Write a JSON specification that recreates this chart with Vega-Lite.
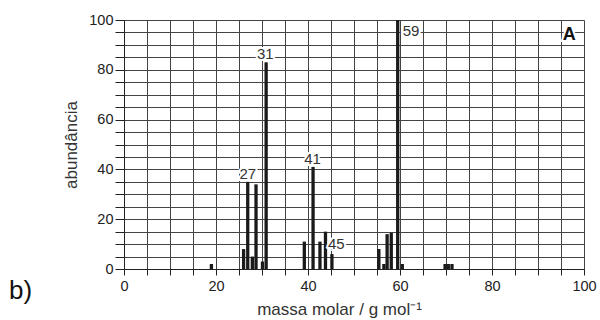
{
  "$schema": "https://vega.github.io/schema/vega-lite/v6.json",
  "width": 460,
  "height": 249,
  "autosize": {"type": "none"},
  "padding": {"left": 124, "top": 20, "right": 16, "bottom": 51},
  "background": "white",
  "config": {
    "view": {"stroke": null},
    "font": "Liberation Sans",
    "axis": {
      "gridColor": "#444",
      "gridOpacity": 1,
      "gridWidth": 1,
      "domainColor": "#222",
      "tickColor": "#222",
      "labelColor": "#222",
      "titleColor": "#333",
      "labelFont": "Liberation Sans",
      "titleFont": "Liberation Sans",
      "labelFontSize": 14.5,
      "titleFontSize": 17,
      "titleFontWeight": "normal"
    }
  },
  "datasets": {
    "picos": [
      {"massa": 19, "abundancia": 2},
      {"massa": 26, "abundancia": 8},
      {"massa": 26.9, "abundancia": 35},
      {"massa": 27.9, "abundancia": 5},
      {"massa": 28.7, "abundancia": 34},
      {"massa": 30.1, "abundancia": 3},
      {"massa": 30.9, "abundancia": 83},
      {"massa": 39.2, "abundancia": 11},
      {"massa": 41.1, "abundancia": 41},
      {"massa": 42.6, "abundancia": 11},
      {"massa": 43.8, "abundancia": 15},
      {"massa": 45.2, "abundancia": 6},
      {"massa": 55.4, "abundancia": 8},
      {"massa": 56.5, "abundancia": 2},
      {"massa": 57.2, "abundancia": 14},
      {"massa": 58.1, "abundancia": 14.5},
      {"massa": 59.5, "abundancia": 100},
      {"massa": 60.5, "abundancia": 2},
      {"massa": 69.8, "abundancia": 2},
      {"massa": 70.5, "abundancia": 2},
      {"massa": 71.3, "abundancia": 2}
    ],
    "rotulosTopo": [
      {"massa": 26.9, "abundancia": 35, "rotulo": "27"},
      {"massa": 30.7, "abundancia": 83, "rotulo": "31"},
      {"massa": 41.0, "abundancia": 41, "rotulo": "41"}
    ],
    "rotulosLado45": [
      {"massa": 45.2, "abundancia": 6, "rotulo": "45"}
    ],
    "rotulosLado59": [
      {"massa": 59.5, "abundancia": 100, "rotulo": "59"}
    ],
    "painel": [
      {"massa": 96.8, "abundancia": 94, "rotulo": "A"}
    ],
    "item": [
      {"massa": -22.5, "abundancia": -8.8, "rotulo": "b)"}
    ]
  },
  "layer": [
    {
      "data": {"name": "picos"},
      "mark": {"type": "bar", "size": 3.3, "color": "#1a1a1a", "orient": "vertical"},
      "encoding": {
        "x": {
          "field": "massa", "type": "quantitative",
          "scale": {"domain": [0, 100], "nice": false, "zero": false, "padding": 0},
          "axis": {
            "title": "massa molar / g mol⁻¹",
            "tickCount": 20,
            "labelExpr": "datum.value % 20 === 0 ? datum.label : ''",
            "labelOverlap": false,
            "tickSize": 6,
            "labelPadding": 4,
            "labelFlush": false,
            "titleX": 215,
            "titleY": 45,
            "titleBaseline": "alphabetic",
            "titleAlign": "center"
          }
        },
        "y": {
          "field": "abundancia", "type": "quantitative",
          "scale": {"domain": [0, 100], "nice": false, "padding": 0},
          "axis": {
            "title": "abundância",
            "tickCount": 20,
            "labelExpr": "datum.value % 20 === 0 ? datum.label : ''",
            "labelOverlap": false,
            "tickSize": 9,
            "labelPadding": 2,
            "labelFlush": false,
            "titlePadding": 8
          }
        }
      }
    },
    {
      "data": {"name": "rotulosTopo"},
      "mark": {"type": "text", "align": "center", "baseline": "bottom", "dy": 0, "fontSize": 15, "color": "white", "stroke": "white", "strokeWidth": 4},
      "encoding": {
        "x": {"field": "massa", "type": "quantitative"},
        "y": {"field": "abundancia", "type": "quantitative"},
        "text": {"field": "rotulo"}
      }
    },
    {
      "data": {"name": "rotulosTopo"},
      "mark": {"type": "text", "align": "center", "baseline": "bottom", "dy": 0, "fontSize": 15, "color": "#333"},
      "encoding": {
        "x": {"field": "massa", "type": "quantitative"},
        "y": {"field": "abundancia", "type": "quantitative"},
        "text": {"field": "rotulo"}
      }
    },
    {
      "data": {"name": "rotulosLado45"},
      "mark": {"type": "text", "align": "left", "baseline": "bottom", "dx": -4, "dy": -2, "fontSize": 15, "color": "white", "stroke": "white", "strokeWidth": 4},
      "encoding": {
        "x": {"field": "massa", "type": "quantitative"},
        "y": {"field": "abundancia", "type": "quantitative"},
        "text": {"field": "rotulo"}
      }
    },
    {
      "data": {"name": "rotulosLado45"},
      "mark": {"type": "text", "align": "left", "baseline": "bottom", "dx": -4, "dy": -2, "fontSize": 15, "color": "#333"},
      "encoding": {
        "x": {"field": "massa", "type": "quantitative"},
        "y": {"field": "abundancia", "type": "quantitative"},
        "text": {"field": "rotulo"}
      }
    },
    {
      "data": {"name": "rotulosLado59"},
      "mark": {"type": "text", "align": "left", "baseline": "top", "dx": 5, "dy": 4, "fontSize": 15, "color": "white", "stroke": "white", "strokeWidth": 4},
      "encoding": {
        "x": {"field": "massa", "type": "quantitative"},
        "y": {"field": "abundancia", "type": "quantitative"},
        "text": {"field": "rotulo"}
      }
    },
    {
      "data": {"name": "rotulosLado59"},
      "mark": {"type": "text", "align": "left", "baseline": "top", "dx": 5, "dy": 4, "fontSize": 15, "color": "#333"},
      "encoding": {
        "x": {"field": "massa", "type": "quantitative"},
        "y": {"field": "abundancia", "type": "quantitative"},
        "text": {"field": "rotulo"}
      }
    },
    {
      "data": {"name": "painel"},
      "mark": {"type": "text", "align": "center", "baseline": "middle", "fontSize": 18, "fontWeight": "bold", "color": "white", "stroke": "white", "strokeWidth": 4},
      "encoding": {
        "x": {"field": "massa", "type": "quantitative"},
        "y": {"field": "abundancia", "type": "quantitative"},
        "text": {"field": "rotulo"}
      }
    },
    {
      "data": {"name": "painel"},
      "mark": {"type": "text", "align": "center", "baseline": "middle", "fontSize": 18, "fontWeight": "bold", "color": "#111"},
      "encoding": {
        "x": {"field": "massa", "type": "quantitative"},
        "y": {"field": "abundancia", "type": "quantitative"},
        "text": {"field": "rotulo"}
      }
    },
    {
      "data": {"name": "item"},
      "mark": {"type": "text", "align": "center", "baseline": "middle", "fontSize": 26, "color": "#111", "clip": false},
      "encoding": {
        "x": {"field": "massa", "type": "quantitative"},
        "y": {"field": "abundancia", "type": "quantitative"},
        "text": {"field": "rotulo"}
      }
    }
  ]
}
